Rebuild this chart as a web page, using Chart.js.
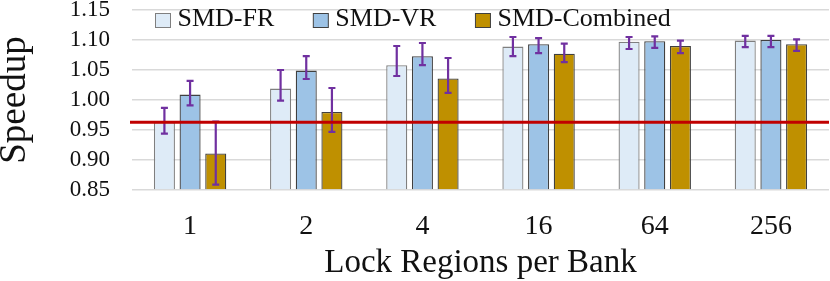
<!DOCTYPE html>
<html>
<head>
<meta charset="utf-8">
<script src="https://cdn.jsdelivr.net/npm/chart.js@4/dist/chart.umd.min.js"></script>
<style>
  html, body { margin: 0; padding: 0; background: #fff; }
  #wrap { width: 830px; height: 281px; position: relative; }
</style>
</head>
<body>
<div id="wrap"><canvas id="speedupChart"></canvas></div>
<script>
// -------------------- Data --------------------
const categories = ["1", "2", "4", "16", "64", "256"];

const frValues   = [0.963, 1.019, 1.058, 1.089, 1.097, 1.099];
const vrValues   = [1.009, 1.049, 1.073, 1.093, 1.098, 1.100];
const combValues = [0.911, 0.980, 1.036, 1.077, 1.090, 1.093];

// error bar ranges (low / high)
const frLow    = [0.944, 0.999, 1.040, 1.073, 1.085, 1.088];
const frHigh   = [0.987, 1.050, 1.090, 1.105, 1.105, 1.107];
const vrLow    = [0.991, 1.035, 1.058, 1.078, 1.087, 1.088];
const vrHigh   = [1.032, 1.073, 1.095, 1.103, 1.106, 1.107];
const combLow  = [0.859, 0.947, 1.012, 1.063, 1.078, 1.082];
const combHigh = [0.964, 1.020, 1.070, 1.094, 1.099, 1.101];

const baseline = 0.963;
const yTicks = [0.85, 0.90, 0.95, 1.00, 1.05, 1.10, 1.15];

const SERIF = '"Liberation Serif", "DejaVu Serif", serif';
Chart.defaults.font.family = SERIF;
Chart.defaults.color = "#111";


// -------------------- Error bars + red baseline --------------------
const errorBars = {
  id: "errorBars",
  afterDatasetsDraw(chart) {
    const ctx = chart.ctx;
    const y = chart.scales.y;
    ctx.save();
    ctx.strokeStyle = "#7030A0";
    ctx.lineWidth = 2.2;
    chart.data.datasets.forEach((ds, di) => {
      const meta = chart.getDatasetMeta(di);
      meta.data.forEach((bar, i) => {
        const top = y.getPixelForValue(ds.errHigh[i]);
        const bot = y.getPixelForValue(ds.errLow[i]);
        ctx.beginPath();
        ctx.moveTo(bar.x, top);
        ctx.lineTo(bar.x, bot);
        ctx.moveTo(bar.x - 3.5, top);
        ctx.lineTo(bar.x + 3.5, top);
        ctx.moveTo(bar.x - 3.5, bot);
        ctx.lineTo(bar.x + 3.5, bot);
        ctx.stroke();
      });
    });

    // baseline
    const by = y.getPixelForValue(baseline);
    ctx.strokeStyle = "#C00000";
    ctx.lineWidth = 3;
    ctx.beginPath();
    ctx.moveTo(chart.chartArea.left - 2, by);
    ctx.lineTo(chart.chartArea.right, by);
    ctx.stroke();
    ctx.restore();
  }
};


// -------------------- Legend inside plot --------------------
const insideLegend = {
  id: "insideLegend",
  afterDraw(chart) {
    const ctx = chart.ctx;
    let x = 155.5;
    const yMid = 20.5;
    ctx.save();
    ctx.font = `26px ${SERIF}`;
    ctx.textBaseline = "middle";
    chart.data.datasets.forEach((ds) => {
      ctx.fillStyle = ds.backgroundColor;
      ctx.strokeStyle = ds.borderColor;
      ctx.lineWidth = 1;
      ctx.fillRect(x, yMid - 7, 15, 14);
      ctx.strokeRect(x, yMid - 7, 15, 14);
      x += 22;
      ctx.fillStyle = "#111";
      ctx.fillText(ds.label, x, yMid - 1);
      x += ctx.measureText(ds.label).width + 39;
    });
    ctx.restore();
  }
};


// -------------------- Chart --------------------
const ctx = document.getElementById("speedupChart").getContext("2d");

new Chart(ctx, {
  type: "bar",
  data: {
    labels: categories,
    datasets: [
      { label: "SMD-FR", data: frValues, errLow: frLow, errHigh: frHigh,
        backgroundColor: "#DEEBF7", borderColor: "#7F7F7F" },
      { label: "SMD-VR", data: vrValues, errLow: vrLow, errHigh: vrHigh,
        backgroundColor: "#9DC3E6", borderColor: "#404040" },
      { label: "SMD-Combined", data: combValues, errLow: combLow, errHigh: combHigh,
        backgroundColor: "#BF9000", borderColor: "#404040" }
    ]
  },
  options: {
    responsive: true,
    maintainAspectRatio: false,
    devicePixelRatio: 1,
    animation: false,
    layout: { padding: { top: 10, right: 1, left: 0, bottom: 0 } },
    datasets: {
      bar: {
        borderWidth: 1.3,
        categoryPercentage: 0.663,
        barPercentage: 0.82,
        base: 0.85
      }
    },
    plugins: {
      legend: { display: false },
      tooltip: { enabled: false }
    },
    scales: {
      x: {
        grid: { display: false },
        border: { display: false },
        ticks: {
          color: "#111",
          padding: 12,
          font: { family: SERIF, size: 28 }
        },
        title: {
          display: true,
          text: "Lock Regions per Bank",
          color: "#111",
          padding: { top: 0, bottom: 1.5 },
          font: { family: SERIF, size: 33, lineHeight: 1 }
        },
        afterFit(scale) { scale.height = 91; }
      },
      y: {
        min: 0.85,
        max: 1.15,
        afterBuildTicks(scale) {
          scale.ticks = yTicks.map(v => ({ value: v }));
        },
        grid: { color: "#D9D9D9", lineWidth: 1.5, drawTicks: false },
        border: { display: false },
        ticks: {
          color: "#111",
          padding: 22,
          autoSkip: false,
          font: { family: SERIF, size: 23 },
          callback: (v) => Number(v).toFixed(2)
        },
        title: {
          display: true,
          text: "Speedup",
          color: "#111",
          padding: { top: 0, bottom: 0 },
          font: { family: SERIF, size: 37, lineHeight: 0.8 }
        },
        afterFit(scale) {
          scale.width = 132;
          scale.paddingTop = 0;
          scale.paddingBottom = 0;
        }
      }
    }
  },
  plugins: [errorBars, insideLegend]
});
</script>
</body>
</html>
